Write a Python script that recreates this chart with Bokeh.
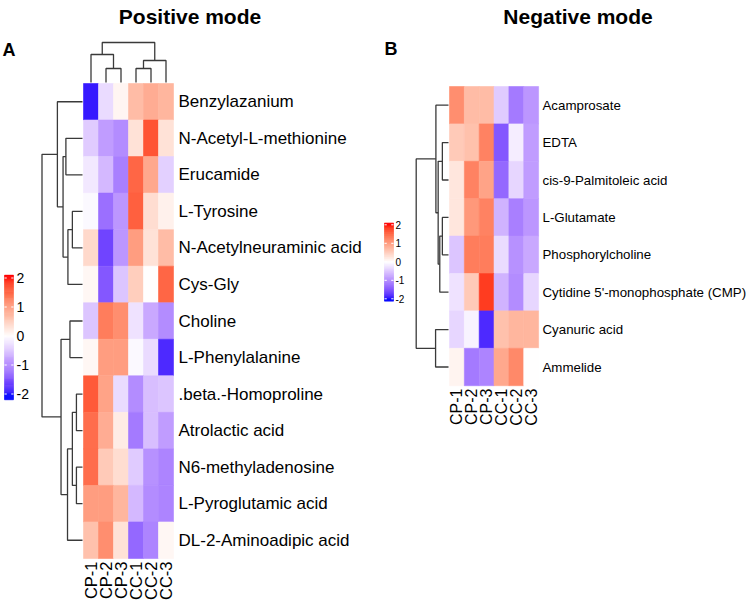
import numpy as np
from bokeh.plotting import figure
from bokeh.models import Range1d, ColumnDataSource, LinearColorMapper
from bokeh.core.properties import value
from bokeh.embed import file_html
from bokeh.resources import INLINE

# ---------------- data ----------------
pos_cols = ["CP-1", "CP-2", "CP-3", "CC-1", "CC-2", "CC-3"]
pos_rows = ["Benzylazanium", "N-Acetyl-L-methionine", "Erucamide", "L-Tyrosine",
            "N-Acetylneuraminic acid", "Cys-Gly", "Choline", "L-Phenylalanine",
            ".beta.-Homoproline", "Atrolactic acid", "N6-methyladenosine",
            "L-Pyroglutamic acid", "DL-2-Aminoadipic acid"]
pos_vals = [
    [-1.9, -0.3, 0.1, 0.7, 0.85, 0.75],
    [-0.45, -0.85, -1.0, 0.3, 1.65, 0.3],
    [-0.2, -0.6, -1.1, 1.5, 0.9, -0.4],
    [-0.05, -1.25, -0.9, 1.55, 0.35, 0.15],
    [0.4, -1.6, -0.9, 1.0, 0.3, 0.7],
    [0.08, -1.45, -0.5, 0.5, 0.0, 1.5],
    [-0.5, 1.3, 1.15, -0.25, -0.75, -1.0],
    [0.08, 1.0, 1.0, -0.05, -0.3, -1.8],
    [1.6, 0.95, -0.3, -1.0, -0.55, -0.5],
    [1.45, 0.85, 0.2, -1.15, -0.55, -0.85],
    [1.45, 0.55, 0.35, -0.45, -0.95, -1.05],
    [1.0, 1.0, 0.75, -0.6, -1.0, -1.05],
    [0.65, 1.15, 0.3, -1.3, -1.05, 0.08],
]
# merges: (left, right, height) ; new node ids continue after leaves
pos_col_merges = [(1, 2, 0.35), (0, 6, 0.70), (3, 4, 0.35), (8, 5, 0.55), (7, 9, 1.0)]
pos_row_merges = [(1, 2, 0.41), (3, 4, 0.25), (14, 5, 0.36), (13, 15, 0.48),
                  (0, 16, 0.62), (6, 7, 0.31), (8, 9, 0.15), (10, 11, 0.15),
                  (19, 20, 0.25), (21, 12, 0.37), (18, 22, 0.53), (17, 23, 1.0)]

neg_cols = ["CP-1", "CP-2", "CP-3", "CC-1", "CC-2", "CC-3"]
neg_rows = ["Acamprosate", "EDTA", "cis-9-Palmitoleic acid", "L-Glutamate",
            "Phosphorylcholine", "Cytidine 5'-monophosphate (CMP)",
            "Cyanuric acid", "Ammelide"]
neg_vals = [
    [1.15, 0.7, 0.7, -0.45, -1.15, -0.9],
    [0.55, 0.65, 1.25, -1.45, -0.15, -0.85],
    [0.25, 1.25, 0.95, -1.3, -0.35, -0.85],
    [0.25, 1.05, 1.25, -0.65, -1.1, -0.9],
    [-0.5, 1.3, 1.3, -0.3, -0.95, -0.75],
    [-0.25, 0.55, 1.8, -0.65, -1.0, -0.35],
    [-0.35, -0.1, -1.8, 0.65, 0.75, 0.75],
    [0.12, -1.15, -1.05, 0.9, 1.2, 0.0],
]
neg_row_merges = [(1, 2, 0.19), (3, 4, 0.19), (9, 5, 0.27), (8, 10, 0.32),
                  (0, 11, 0.39), (6, 7, 0.40), (12, 13, 1.0)]

legend_ticks = [2, 1, 0, -1, -2]
legend_labels = ["2", "1", "0", "-1", "-2"]

# ---------------- colour palette (Lab interpolation blue-white-red) ----------------
def _to_lin(c):
    c = np.asarray(c, float)
    return np.where(c <= 0.04045, c / 12.92, ((c + 0.055) / 1.055) ** 2.4)

def _from_lin(c):
    c = np.clip(c, 0, 1)
    return np.where(c <= 0.0031308, 12.92 * c, 1.055 * c ** (1 / 2.4) - 0.055)

M = np.array([[0.4124, 0.3576, 0.1805], [0.2126, 0.7152, 0.0722], [0.0193, 0.1192, 0.9505]])
Minv = np.linalg.inv(M)
WP = np.array([0.95047, 1.0, 1.08883])

def rgb2lab(rgb):
    xyz = M @ _to_lin(rgb) / WP
    f = np.where(xyz > 0.008856, np.cbrt(xyz), 7.787 * xyz + 16 / 116)
    return np.array([116 * f[1] - 16, 500 * (f[0] - f[1]), 200 * (f[1] - f[2])])

def lab2rgb(lab):
    fy = (lab[0] + 16) / 116
    fx = fy + lab[1] / 500
    fz = fy - lab[2] / 200
    f = np.array([fx, fy, fz])
    xyz = np.where(f ** 3 > 0.008856, f ** 3, (f - 16 / 116) / 7.787) * WP
    return _from_lin(Minv @ xyz)

anchors = [(-2.0, (0, 0, 1)), (0.0, (1, 1, 1)), (2.0, (1, 0, 0))]
def col_at(v):
    v = max(-2, min(2, v))
    (v0, c0), (v1, c1) = (anchors[0], anchors[1]) if v <= 0 else (anchors[1], anchors[2])
    t = (v - v0) / (v1 - v0)
    lab = rgb2lab(c0) * (1 - t) + rgb2lab(c1) * t
    r, g, b = (lab2rgb(lab) * 255).round().astype(int)
    return "#%02x%02x%02x" % (r, g, b)

palette = [col_at(v) for v in np.linspace(-2, 2, 256)]
mapper = LinearColorMapper(palette=palette, low=-2, high=2)

# ---------------- figure ----------------
W, H = 749, 603
p = figure(width=W, height=H, x_range=Range1d(0, W), y_range=Range1d(H, 0),
           output_backend="svg", toolbar_location=None, min_border=0,
           x_axis_location=None, y_axis_location=None)
p.grid.visible = False
p.outline_line_color = None
p.background_fill_color = "white"

FONT = value("Liberation Sans")
DCOL = "#3a3a3a"

def dendro(n, merges):
    pos = {i: i + 0.5 for i in range(n)}
    hgt = {i: 0.0 for i in range(n)}
    segs = []
    for k, (a, b, h) in enumerate(merges):
        segs.append(([pos[a], pos[a], pos[b], pos[b]], [hgt[a], h, h, hgt[b]]))
        pos[n + k] = (pos[a] + pos[b]) / 2
        hgt[n + k] = h
    return segs

def heatmap(vals, rows, cols, x0, y0, cw, ch, row_font, col_font, lab_x, col_y):
    xs, ys, vs = [], [], []
    for i, row in enumerate(vals):
        for j, v in enumerate(row):
            xs.append(x0 + (j + 0.5) * cw)
            ys.append(y0 + (i + 0.5) * ch)
            vs.append(v)
    src = ColumnDataSource(dict(x=xs, y=ys, v=vs))
    p.rect("x", "y", width=cw, height=ch, source=src,
           fill_color={"field": "v", "transform": mapper},
           line_color={"field": "v", "transform": mapper}, line_width=0.6)
    p.text(x=[lab_x] * len(rows), y=[y0 + (i + 0.5) * ch for i in range(len(rows))],
           text=rows, text_font=FONT, text_font_size=row_font,
           text_baseline="middle", text_align="left", text_color="black")
    p.text(x=[x0 + (j + 0.5) * cw for j in range(len(cols))], y=[col_y] * len(cols),
           text=cols, angle=np.pi / 2, text_font=FONT, text_font_size=col_font,
           text_baseline="middle", text_align="right", text_color="black")

def legend(x0, x1, yzero, step, lo, hi, font, lab_x):
    vv = np.linspace(lo, hi, 120)
    tops = [yzero - step * v for v in vv[1:]]
    bots = [yzero - step * v for v in vv[:-1]]
    cols = [col_at((a + b) / 2) for a, b in zip(vv[:-1], vv[1:])]
    p.quad(left=x0, right=x1, top=tops, bottom=bots, fill_color=cols, line_color=cols, line_width=0.5)
    ty = [yzero - step * t for t in legend_ticks]
    wlen = (x1 - x0) * 0.25
    p.segment(x0=[x0] * 5, x1=[x0 + wlen] * 5, y0=ty, y1=ty, line_color="white", line_width=1)
    p.segment(x0=[x1 - wlen] * 5, x1=[x1] * 5, y0=ty, y1=ty, line_color="white", line_width=1)
    p.text(x=[lab_x] * 5, y=ty, text=legend_labels, text_font=FONT, text_font_size=font,
           text_baseline="middle", text_align="left", text_color="black")

# ---- Panel A ----
ax0, acw, ay0, ach = 83, 15.0, 83, 36.54
heatmap(pos_vals, pos_rows, pos_cols, ax0, ay0, acw, ach, "17px", "16.5px", 178, 561)
segs = dendro(len(pos_cols), pos_col_merges)
p.multi_line([[ax0 + q * acw for q in s[0]] for s in segs],
             [[82 - h * 40 for h in s[1]] for s in segs], line_color=DCOL, line_width=1.3)
segs = dendro(len(pos_rows), pos_row_merges)
p.multi_line([[82 - h * 40.5 for h in s[1]] for s in segs],
             [[ay0 + q * ach for q in s[0]] for s in segs], line_color=DCOL, line_width=1.3)
legend(4, 13, 335.5, 29, -2.2, 2.1, "14px", 16)

# ---- Panel B ----
bx0, bcw, by0, bch = 449, 14.85, 86, 37.4
heatmap(neg_vals, neg_rows, neg_cols, bx0, by0, bcw, bch, "13.3px", "16px", 542, 388)
segs = dendro(len(neg_rows), neg_row_merges)
p.multi_line([[448 - h * 32.3 for h in s[1]] for s in segs],
             [[by0 + q * bch for q in s[0]] for s in segs], line_color=DCOL, line_width=1.3)
legend(384, 393, 261.3, 18.5, -2.13, 2.1, "10px", 395)

# ---- titles ----
p.text(x=[189.5, 577.5], y=[16, 16], text=["Positive mode", "Negative mode"],
       text_font=FONT, text_font_style="bold", text_font_size="21px",
       text_align="center", text_baseline="alphabetic", text_color="black")
p.text(x=[2, 384], y=[49, 48], text=["A", "B"], text_font=FONT, text_font_style="bold",
       text_font_size="18px", text_align="left", text_baseline="alphabetic", text_color="black")

open("out.html", "w").write(file_html(p, INLINE))
